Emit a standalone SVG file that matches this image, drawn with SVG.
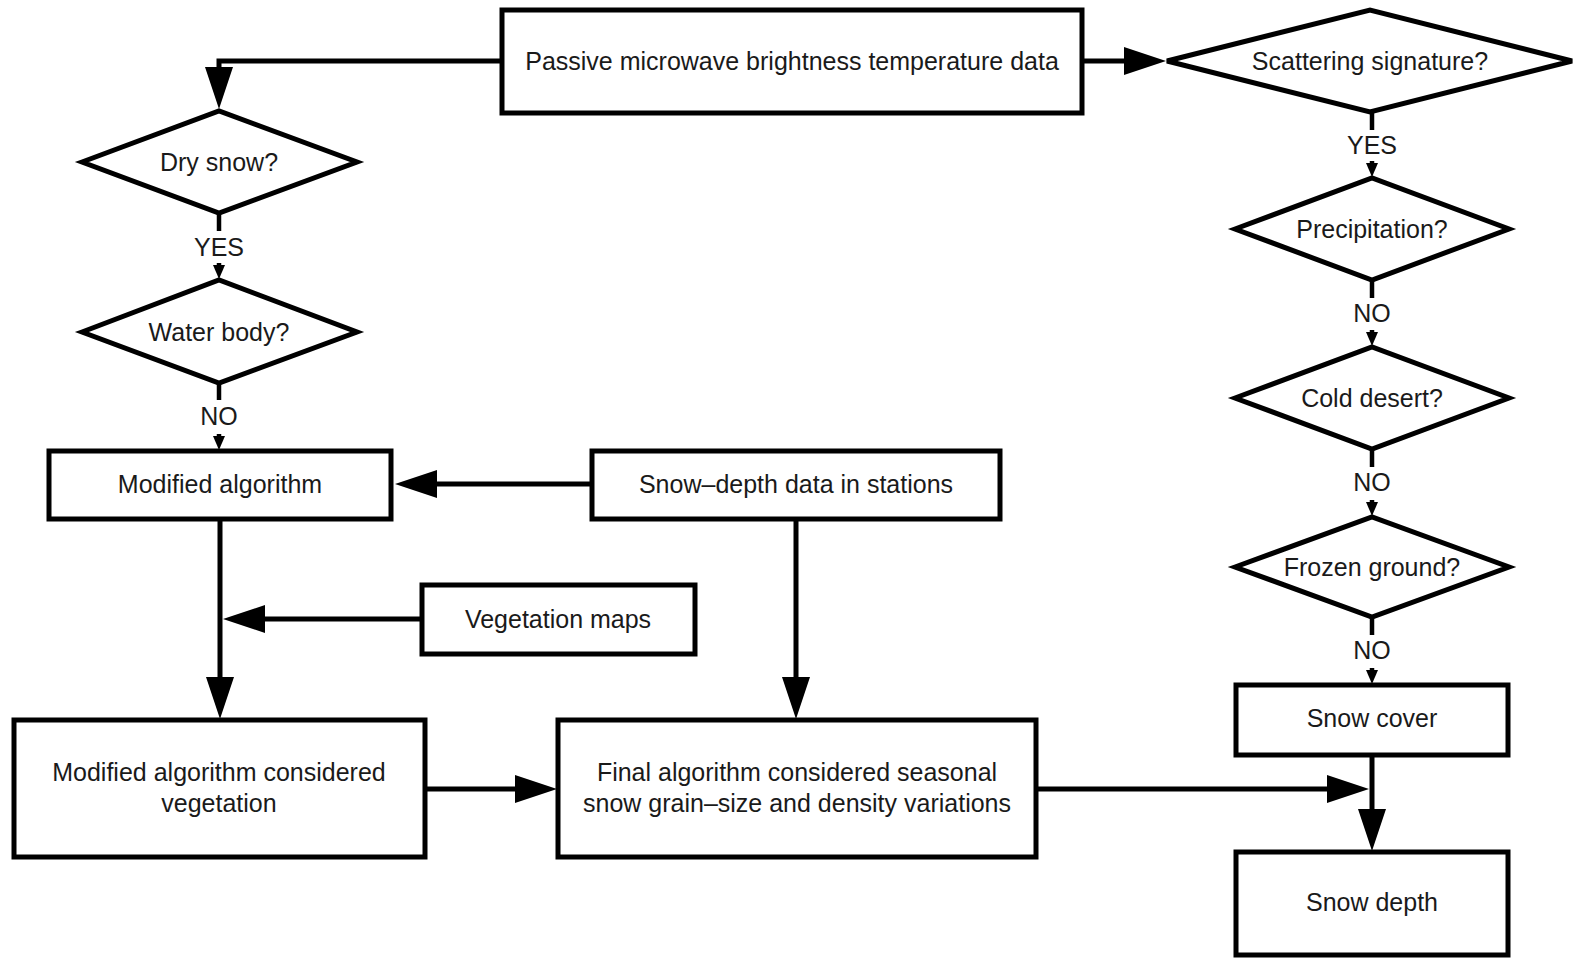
<svg xmlns="http://www.w3.org/2000/svg" width="1574" height="959" viewBox="0 0 1574 959">
<style>
.box{fill:#fff;stroke:#000;stroke-width:5}
.t{font-family:"Liberation Sans",Arial,sans-serif;font-size:25px;fill:#1a1a1a;text-anchor:middle}
.c{fill:none;stroke:#000;stroke-width:5}
.s{fill:none;stroke:#000;stroke-width:4.5}
</style>
<defs>
<marker id="ab" markerUnits="userSpaceOnUse" markerWidth="42" markerHeight="28" viewBox="0 0 42 28" refX="1" refY="14" orient="auto"><path d="M0,0L42,14L0,28z" fill="#000"/></marker>
<marker id="as" markerUnits="userSpaceOnUse" markerWidth="14" markerHeight="12" viewBox="0 0 14 12" refX="1" refY="6" orient="auto"><path d="M0,0L14,6L0,12z" fill="#000"/></marker>
</defs>
<rect width="1574" height="959" fill="#fff"/>
<g id="connectors">
<path class="c" d="M502,61H219V68" marker-end="url(#ab)"/>
<path class="c" d="M1082,61H1125" marker-end="url(#ab)"/>
<path class="s" d="M219,213V231"/>
<path class="s" d="M219,263V266" marker-end="url(#as)"/>
<text class="t" x="219" y="256">YES</text>
<path class="s" d="M219,383V400"/>
<path class="s" d="M219,434V437" marker-end="url(#as)"/>
<text class="t" x="219" y="425">NO</text>
<path class="s" d="M1372,112V130"/>
<path class="s" d="M1372,161V164" marker-end="url(#as)"/>
<text class="t" x="1372" y="154">YES</text>
<path class="s" d="M1372,280V298"/>
<path class="s" d="M1372,330V333" marker-end="url(#as)"/>
<text class="t" x="1372" y="322">NO</text>
<path class="s" d="M1372,449V467"/>
<path class="s" d="M1372,500V503" marker-end="url(#as)"/>
<text class="t" x="1372" y="491">NO</text>
<path class="s" d="M1372,617V635"/>
<path class="s" d="M1372,668V671" marker-end="url(#as)"/>
<text class="t" x="1372" y="659">NO</text>
<path class="c" d="M592,484H436" marker-end="url(#ab)"/>
<path class="c" d="M422,619H264" marker-end="url(#ab)"/>
<path class="c" d="M220,519V678" marker-end="url(#ab)"/>
<path class="c" d="M796,519V678" marker-end="url(#ab)"/>
<path class="c" d="M425,789H516" marker-end="url(#ab)"/>
<path class="c" d="M1036,789H1328" marker-end="url(#ab)"/>
<path class="c" d="M1372,755V810" marker-end="url(#ab)"/>
</g>
<g id="n-passive">
<rect class="box" x="502" y="10" width="580" height="103"/>
<text class="t" x="792" y="70">Passive microwave brightness temperature data</text>
</g>
<g id="n-scattering">
<polygon class="box" points="1167,61 1370,10 1572,61 1370,112"/>
<text class="t" x="1370" y="70">Scattering signature?</text>
</g>
<g id="n-precip">
<polygon class="box" points="1235,229 1372,178 1509,229 1372,280"/>
<text class="t" x="1372" y="238">Precipitation?</text>
</g>
<g id="n-cold">
<polygon class="box" points="1235,398 1372,347 1509,398 1372,449"/>
<text class="t" x="1372" y="407">Cold desert?</text>
</g>
<g id="n-frozen">
<polygon class="box" points="1235,567 1372,517 1509,567 1372,617"/>
<text class="t" x="1372" y="576">Frozen ground?</text>
</g>
<g id="n-snowcover">
<rect class="box" x="1236" y="685" width="272" height="70"/>
<text class="t" x="1372" y="727">Snow cover</text>
</g>
<g id="n-snowdepth">
<rect class="box" x="1236" y="852" width="272" height="103"/>
<text class="t" x="1372" y="911">Snow depth</text>
</g>
<g id="n-dry">
<polygon class="box" points="82,162 219,111 357,162 219,213"/>
<text class="t" x="219" y="171">Dry snow?</text>
</g>
<g id="n-water">
<polygon class="box" points="82,332 219,280 357,332 219,383"/>
<text class="t" x="219" y="341">Water body?</text>
</g>
<g id="n-modified">
<rect class="box" x="49" y="451" width="342" height="68"/>
<text class="t" x="220" y="493">Modified algorithm</text>
</g>
<g id="n-stations">
<rect class="box" x="592" y="451" width="408" height="68"/>
<text class="t" x="796" y="493">Snow–depth data in stations</text>
</g>
<g id="n-vegmaps">
<rect class="box" x="422" y="585" width="273" height="69"/>
<text class="t" x="558" y="628">Vegetation maps</text>
</g>
<g id="n-modveg">
<rect class="box" x="14" y="720" width="411" height="137"/>
<text class="t" x="219" y="781">Modified algorithm considered</text>
<text class="t" x="219" y="812">vegetation</text>
</g>
<g id="n-final">
<rect class="box" x="558" y="720" width="478" height="137"/>
<text class="t" x="797" y="781">Final algorithm considered seasonal</text>
<text class="t" x="797" y="812">snow grain–size and density variations</text>
</g>
</svg>
